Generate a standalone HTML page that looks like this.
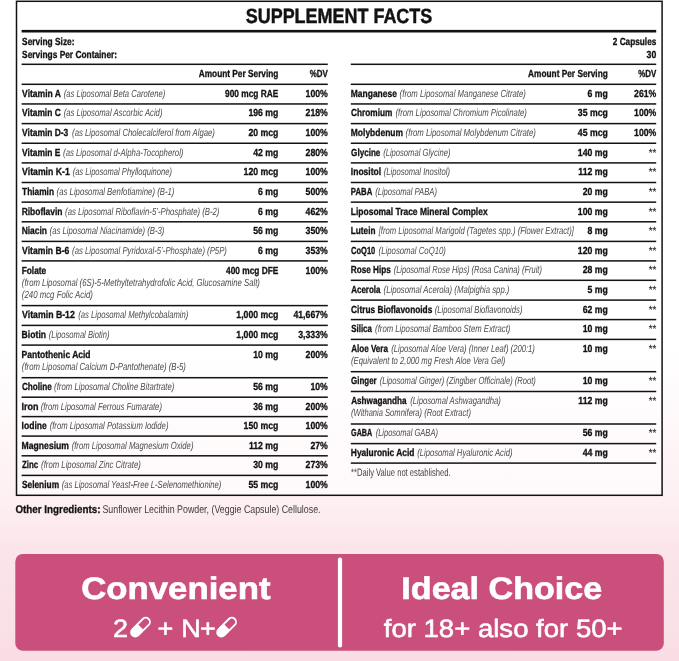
<!DOCTYPE html>
<html><head><meta charset="utf-8"><title>Supplement Facts</title>
<style>
html,body{margin:0;padding:0}
body{width:679px;height:661px;overflow:hidden;font-family:"Liberation Sans",sans-serif;background:linear-gradient(180deg,#ffffff 0%,#ffffff 52%,#fef9fa 63%,#fef5f7 67.5%,#fdf0f3 75.5%,#fce9ee 80%,#fbe4ea 84%,#f9dde5 100%)}
svg{position:absolute;left:0;top:0;display:block;filter:blur(.3px)}
text{font-family:"Liberation Sans",sans-serif;fill:#121212;text-rendering:geometricPrecision}
.ti{font-size:20.6px;font-weight:bold;stroke:#121212;stroke-width:.45px}
.b{font-size:10.3px;font-weight:bold;stroke:#121212;stroke-width:.32px}
.i{font-size:10.3px;font-style:italic;fill:#4c4c4c}
.r{font-size:10.8px;fill:#444}
.st{font-size:10.3px;fill:#222;stroke:#222;stroke-width:.15px}
.ob{font-size:11.2px;font-weight:bold;stroke:#121212;stroke-width:.3px}
.or{font-size:11.2px;fill:#3c3c3c}
.bt{font-size:31.2px;font-weight:bold;fill:#fff;stroke:#fff;stroke-width:.6px}
.bs{font-size:25px;fill:#fff;stroke:#fff;stroke-width:.55px}
</style></head><body>
<svg width="679" height="661" viewBox="0 0 679 661">
<rect x="16.5" y="1.3" width="645.6" height="494" fill="#fff" fill-opacity=".55" stroke="#121212" stroke-width="1.5"/>
<text class="ti" transform="translate(339.00 23.30) scale(0.8720 1)" text-anchor="middle">SUPPLEMENT FACTS</text>
<rect x="21.60" y="29.90" width="634.60" height="2.6" fill="#121212"/>
<text class="b" transform="translate(22.10 44.60) scale(0.8100 1)">Serving Size:</text>
<text class="b" transform="translate(22.10 57.60) scale(0.8100 1)">Servings Per Container:</text>
<text class="b" transform="translate(656.30 44.60) scale(0.8000 1)" text-anchor="end">2 Capsules</text>
<text class="b" transform="translate(656.30 57.60) scale(0.8450 1)" text-anchor="end">30</text>
<rect x="21.60" y="63.55" width="306.20" height="1.5" fill="#121212"/>
<rect x="350.80" y="63.55" width="305.40" height="1.5" fill="#121212"/>
<text class="b" transform="translate(278.40 77.10) scale(0.8050 1)" text-anchor="end">Amount Per Serving</text>
<text class="b" transform="translate(327.80 77.10) scale(0.7700 1)" text-anchor="end">%DV</text>
<text class="b" transform="translate(607.80 77.10) scale(0.8050 1)" text-anchor="end">Amount Per Serving</text>
<text class="b" transform="translate(656.30 77.10) scale(0.7700 1)" text-anchor="end">%DV</text>
<rect x="21.60" y="83.55" width="306.20" height="1.5" fill="#121212"/>
<text class="b" transform="translate(22.12 96.70) scale(0.8280 1)">Vitamin A</text>
<text class="i" transform="translate(63.63 96.70) scale(0.7428 1)">(as Liposomal Beta Carotene)</text>
<text class="b" transform="translate(278.40 96.70) scale(0.8100 1)" text-anchor="end">900 mcg RAE</text>
<text class="b" transform="translate(327.80 96.70) scale(0.8450 1)" text-anchor="end">100%</text>
<rect x="21.60" y="103.20" width="306.20" height="1.5" fill="#121212"/>
<text class="b" transform="translate(22.12 116.35) scale(0.8166 1)">Vitamin C</text>
<text class="i" transform="translate(63.63 116.35) scale(0.7487 1)">(as Liposomal Ascorbic Acid)</text>
<text class="b" transform="translate(278.40 116.35) scale(0.8450 1)" text-anchor="end">196 mg</text>
<text class="b" transform="translate(327.80 116.35) scale(0.8450 1)" text-anchor="end">218%</text>
<rect x="21.60" y="122.85" width="306.20" height="1.5" fill="#121212"/>
<text class="b" transform="translate(22.12 136.00) scale(0.8179 1)">Vitamin D-3</text>
<text class="i" transform="translate(72.12 136.00) scale(0.7509 1)">(as Liposomal Cholecalciferol from Algae)</text>
<text class="b" transform="translate(278.40 136.00) scale(0.8450 1)" text-anchor="end">20 mcg</text>
<text class="b" transform="translate(327.80 136.00) scale(0.8450 1)" text-anchor="end">100%</text>
<rect x="21.60" y="142.50" width="306.20" height="1.5" fill="#121212"/>
<text class="b" transform="translate(22.12 155.65) scale(0.8182 1)">Vitamin E</text>
<text class="i" transform="translate(63.12 155.65) scale(0.7525 1)">(as Liposomal d-Alpha-Tocopherol)</text>
<text class="b" transform="translate(278.40 155.65) scale(0.8450 1)" text-anchor="end">42 mg</text>
<text class="b" transform="translate(327.80 155.65) scale(0.8450 1)" text-anchor="end">280%</text>
<rect x="21.60" y="162.15" width="306.20" height="1.5" fill="#121212"/>
<text class="b" transform="translate(22.12 175.30) scale(0.8431 1)">Vitamin K-1</text>
<text class="i" transform="translate(72.63 175.30) scale(0.7351 1)">(as Liposomal Phylloquinone)</text>
<text class="b" transform="translate(278.40 175.30) scale(0.8450 1)" text-anchor="end">120 mcg</text>
<text class="b" transform="translate(327.80 175.30) scale(0.8450 1)" text-anchor="end">100%</text>
<rect x="21.60" y="181.75" width="306.20" height="1.5" fill="#121212"/>
<text class="b" transform="translate(22.12 194.90) scale(0.8067 1)">Thiamin</text>
<text class="i" transform="translate(56.62 194.90) scale(0.7539 1)">(as Liposomal Benfotiamine) (B-1)</text>
<text class="b" transform="translate(278.40 194.90) scale(0.8450 1)" text-anchor="end">6 mg</text>
<text class="b" transform="translate(327.80 194.90) scale(0.8450 1)" text-anchor="end">500%</text>
<rect x="21.60" y="201.40" width="306.20" height="1.5" fill="#121212"/>
<text class="b" transform="translate(21.63 214.55) scale(0.8206 1)">Riboflavin</text>
<text class="i" transform="translate(65.12 214.55) scale(0.7510 1)">(as Liposomal Riboflavin-5’-Phosphate) (B-2)</text>
<text class="b" transform="translate(278.40 214.55) scale(0.8450 1)" text-anchor="end">6 mg</text>
<text class="b" transform="translate(327.80 214.55) scale(0.8450 1)" text-anchor="end">462%</text>
<rect x="21.60" y="221.05" width="306.20" height="1.5" fill="#121212"/>
<text class="b" transform="translate(21.63 234.20) scale(0.8209 1)">Niacin</text>
<text class="i" transform="translate(49.62 234.20) scale(0.7515 1)">(as Liposomal Niacinamide) (B-3)</text>
<text class="b" transform="translate(278.40 234.20) scale(0.8450 1)" text-anchor="end">56 mg</text>
<text class="b" transform="translate(327.80 234.20) scale(0.8450 1)" text-anchor="end">350%</text>
<rect x="21.60" y="240.65" width="306.20" height="1.5" fill="#121212"/>
<text class="b" transform="translate(22.12 253.80) scale(0.8357 1)">Vitamin B-6</text>
<text class="i" transform="translate(72.12 253.80) scale(0.7512 1)">(as Liposomal Pyridoxal-5’-Phosphate) (P5P)</text>
<text class="b" transform="translate(278.40 253.80) scale(0.8450 1)" text-anchor="end">6 mg</text>
<text class="b" transform="translate(327.80 253.80) scale(0.8450 1)" text-anchor="end">353%</text>
<rect x="21.60" y="260.15" width="306.20" height="1.5" fill="#121212"/>
<text class="b" transform="translate(21.63 274.00) scale(0.8123 1)">Folate</text>
<text class="b" transform="translate(278.40 274.00) scale(0.8100 1)" text-anchor="end">400 mcg DFE</text>
<text class="b" transform="translate(327.80 274.00) scale(0.8450 1)" text-anchor="end">100%</text>
<text class="i" transform="translate(21.82 286.00) scale(0.7533 1)">(from Liposomal (6S)-5-Methyltetrahydrofolic Acid, Glucosamine Salt)</text>
<text class="i" transform="translate(21.82 298.00) scale(0.7608 1)">(240 mcg Folic Acid)</text>
<rect x="21.60" y="304.85" width="306.20" height="1.5" fill="#121212"/>
<text class="b" transform="translate(22.12 318.00) scale(0.8476 1)">Vitamin B-12</text>
<text class="i" transform="translate(78.13 318.00) scale(0.7469 1)">(as Liposomal Methylcobalamin)</text>
<text class="b" transform="translate(278.40 318.00) scale(0.8450 1)" text-anchor="end">1,000 mcg</text>
<text class="b" transform="translate(327.80 318.00) scale(0.8450 1)" text-anchor="end">41,667%</text>
<rect x="21.60" y="324.65" width="306.20" height="1.5" fill="#121212"/>
<text class="b" transform="translate(21.61 337.80) scale(0.8381 1)">Biotin</text>
<text class="i" transform="translate(48.63 337.80) scale(0.7380 1)">(Liposomal Biotin)</text>
<text class="b" transform="translate(278.40 337.80) scale(0.8450 1)" text-anchor="end">1,000 mcg</text>
<text class="b" transform="translate(327.80 337.80) scale(0.8450 1)" text-anchor="end">3,333%</text>
<rect x="21.60" y="344.35" width="306.20" height="1.5" fill="#121212"/>
<text class="b" transform="translate(21.62 357.50) scale(0.8228 1)">Pantothenic Acid</text>
<text class="b" transform="translate(278.40 357.50) scale(0.8450 1)" text-anchor="end">10 mg</text>
<text class="b" transform="translate(327.80 357.50) scale(0.8450 1)" text-anchor="end">200%</text>
<text class="i" transform="translate(21.82 369.50) scale(0.7525 1)">(from Liposomal Calcium D-Pantothenate) (B-5)</text>
<rect x="21.60" y="376.95" width="306.20" height="1.5" fill="#121212"/>
<text class="b" transform="translate(21.88 390.10) scale(0.7919 1)">Choline</text>
<text class="i" transform="translate(54.12 390.10) scale(0.7535 1)">(from Liposomal Choline Bitartrate)</text>
<text class="b" transform="translate(278.40 390.10) scale(0.8450 1)" text-anchor="end">56 mg</text>
<text class="b" transform="translate(327.80 390.10) scale(0.8450 1)" text-anchor="end">10%</text>
<rect x="21.60" y="396.45" width="306.20" height="1.5" fill="#121212"/>
<text class="b" transform="translate(21.59 409.60) scale(0.8729 1)">Iron</text>
<text class="i" transform="translate(40.63 409.60) scale(0.7466 1)">(from Liposomal Ferrous Fumarate)</text>
<text class="b" transform="translate(278.40 409.60) scale(0.8450 1)" text-anchor="end">36 mg</text>
<text class="b" transform="translate(327.80 409.60) scale(0.8450 1)" text-anchor="end">200%</text>
<rect x="21.60" y="415.85" width="306.20" height="1.5" fill="#121212"/>
<text class="b" transform="translate(21.62 429.00) scale(0.8294 1)">Iodine</text>
<text class="i" transform="translate(49.63 429.00) scale(0.7468 1)">(from Liposomal Potassium Iodide)</text>
<text class="b" transform="translate(278.40 429.00) scale(0.8450 1)" text-anchor="end">150 mcg</text>
<text class="b" transform="translate(327.80 429.00) scale(0.8450 1)" text-anchor="end">100%</text>
<rect x="21.60" y="435.35" width="306.20" height="1.5" fill="#121212"/>
<text class="b" transform="translate(21.61 448.50) scale(0.8373 1)">Magnesium</text>
<text class="i" transform="translate(71.63 448.50) scale(0.7469 1)">(from Liposomal Magnesium Oxide)</text>
<text class="b" transform="translate(278.40 448.50) scale(0.8450 1)" text-anchor="end">112 mg</text>
<text class="b" transform="translate(327.80 448.50) scale(0.8450 1)" text-anchor="end">27%</text>
<rect x="21.60" y="455.05" width="306.20" height="1.5" fill="#121212"/>
<text class="b" transform="translate(21.97 468.20) scale(0.7670 1)">Zinc</text>
<text class="i" transform="translate(41.12 468.20) scale(0.7517 1)">(from Liposomal Zinc Citrate)</text>
<text class="b" transform="translate(278.40 468.20) scale(0.8450 1)" text-anchor="end">30 mg</text>
<text class="b" transform="translate(327.80 468.20) scale(0.8450 1)" text-anchor="end">273%</text>
<rect x="21.60" y="474.65" width="306.20" height="1.5" fill="#121212"/>
<text class="b" transform="translate(21.96 487.80) scale(0.8103 1)">Selenium</text>
<text class="i" transform="translate(61.63 487.80) scale(0.7430 1)">(as Liposomal Yeast-Free L-Selenomethionine)</text>
<text class="b" transform="translate(278.40 487.80) scale(0.8450 1)" text-anchor="end">55 mcg</text>
<text class="b" transform="translate(327.80 487.80) scale(0.8450 1)" text-anchor="end">100%</text>
<rect x="350.80" y="83.55" width="305.40" height="1.5" fill="#121212"/>
<text class="b" transform="translate(350.82 96.70) scale(0.8218 1)">Manganese</text>
<text class="i" transform="translate(399.62 96.70) scale(0.7560 1)">(from Liposomal Manganese Citrate)</text>
<text class="b" transform="translate(607.80 96.70) scale(0.8450 1)" text-anchor="end">6 mg</text>
<text class="b" transform="translate(656.30 96.70) scale(0.8450 1)" text-anchor="end">261%</text>
<rect x="350.80" y="103.20" width="305.40" height="1.5" fill="#121212"/>
<text class="b" transform="translate(351.08 116.35) scale(0.8020 1)">Chromium</text>
<text class="i" transform="translate(395.42 116.35) scale(0.7511 1)">(from Liposomal Chromium Picolinate)</text>
<text class="b" transform="translate(607.80 116.35) scale(0.8450 1)" text-anchor="end">35 mcg</text>
<text class="b" transform="translate(656.30 116.35) scale(0.8450 1)" text-anchor="end">100%</text>
<rect x="350.80" y="122.85" width="305.40" height="1.5" fill="#121212"/>
<text class="b" transform="translate(350.82 136.00) scale(0.8215 1)">Molybdenum</text>
<text class="i" transform="translate(405.62 136.00) scale(0.7564 1)">(from Liposomal Molybdenum Citrate)</text>
<text class="b" transform="translate(607.80 136.00) scale(0.8450 1)" text-anchor="end">45 mcg</text>
<text class="b" transform="translate(656.30 136.00) scale(0.8450 1)" text-anchor="end">100%</text>
<rect x="350.80" y="142.50" width="305.40" height="1.5" fill="#121212"/>
<text class="b" transform="translate(351.09 155.65) scale(0.7857 1)">Glycine</text>
<text class="i" transform="translate(383.13 155.65) scale(0.7397 1)">(Liposomal Glycine)</text>
<text class="b" transform="translate(607.80 155.65) scale(0.8450 1)" text-anchor="end">140 mg</text>
<text class="st" transform="translate(656.30 155.65) scale(0.9500 1)" text-anchor="end">**</text>
<rect x="350.80" y="162.15" width="305.40" height="1.5" fill="#121212"/>
<text class="b" transform="translate(350.82 175.30) scale(0.8267 1)">Inositol</text>
<text class="i" transform="translate(383.63 175.30) scale(0.7426 1)">(Liposomal Inositol)</text>
<text class="b" transform="translate(607.80 175.30) scale(0.8450 1)" text-anchor="end">112 mg</text>
<text class="st" transform="translate(656.30 175.30) scale(0.9500 1)" text-anchor="end">**</text>
<rect x="350.80" y="181.75" width="305.40" height="1.5" fill="#121212"/>
<text class="b" transform="translate(350.87 194.90) scale(0.7518 1)">PABA</text>
<text class="i" transform="translate(375.13 194.90) scale(0.7412 1)">(Liposomal PABA)</text>
<text class="b" transform="translate(607.80 194.90) scale(0.8450 1)" text-anchor="end">20 mg</text>
<text class="st" transform="translate(656.30 194.90) scale(0.9500 1)" text-anchor="end">**</text>
<rect x="350.80" y="201.40" width="305.40" height="1.5" fill="#121212"/>
<text class="b" transform="translate(350.83 214.55) scale(0.8214 1)">Liposomal Trace Mineral Complex</text>
<text class="b" transform="translate(607.80 214.55) scale(0.8450 1)" text-anchor="end">100 mg</text>
<text class="st" transform="translate(656.30 214.55) scale(0.9500 1)" text-anchor="end">**</text>
<rect x="350.80" y="221.05" width="305.40" height="1.5" fill="#121212"/>
<text class="b" transform="translate(350.84 234.20) scale(0.7973 1)">Lutein</text>
<text class="i" transform="translate(378.65 234.20) scale(0.7442 1)">[from Liposomal Marigold (Tagetes spp.) (Flower Extract)]</text>
<text class="b" transform="translate(607.80 234.20) scale(0.8450 1)" text-anchor="end">8 mg</text>
<text class="st" transform="translate(656.30 234.20) scale(0.9500 1)" text-anchor="end">**</text>
<rect x="350.80" y="240.65" width="305.40" height="1.5" fill="#121212"/>
<text class="b" transform="translate(351.11 253.80) scale(0.7284 1)">CoQ10</text>
<text class="i" transform="translate(378.62 253.80) scale(0.7540 1)">(Liposomal CoQ10)</text>
<text class="b" transform="translate(607.80 253.80) scale(0.8450 1)" text-anchor="end">120 mg</text>
<text class="st" transform="translate(656.30 253.80) scale(0.9500 1)" text-anchor="end">**</text>
<rect x="350.80" y="260.15" width="305.40" height="1.5" fill="#121212"/>
<text class="b" transform="translate(350.84 273.30) scale(0.7947 1)">Rose Hips</text>
<text class="i" transform="translate(393.64 273.30) scale(0.7277 1)">(Liposomal Rose Hips) (Rosa Canina) (Fruit)</text>
<text class="b" transform="translate(607.80 273.30) scale(0.8450 1)" text-anchor="end">28 mg</text>
<text class="st" transform="translate(656.30 273.30) scale(0.9500 1)" text-anchor="end">**</text>
<rect x="350.80" y="279.55" width="305.40" height="1.5" fill="#121212"/>
<text class="b" transform="translate(351.17 292.70) scale(0.7760 1)">Acerola</text>
<text class="i" transform="translate(383.62 292.70) scale(0.7521 1)">(Liposomal Acerola) (Malpighia spp.)</text>
<text class="b" transform="translate(607.80 292.70) scale(0.8450 1)" text-anchor="end">5 mg</text>
<text class="st" transform="translate(656.30 292.70) scale(0.9500 1)" text-anchor="end">**</text>
<rect x="350.80" y="299.35" width="305.40" height="1.5" fill="#121212"/>
<text class="b" transform="translate(351.08 312.50) scale(0.8068 1)">Citrus Bioflavonoids</text>
<text class="i" transform="translate(434.63 312.50) scale(0.7449 1)">(Liposomal Bioflavonoids)</text>
<text class="b" transform="translate(607.80 312.50) scale(0.8450 1)" text-anchor="end">62 mg</text>
<text class="st" transform="translate(656.30 312.50) scale(0.9500 1)" text-anchor="end">**</text>
<rect x="350.80" y="318.85" width="305.40" height="1.5" fill="#121212"/>
<text class="b" transform="translate(351.17 332.00) scale(0.7715 1)">Silica</text>
<text class="i" transform="translate(375.12 332.00) scale(0.7506 1)">(from Liposomal Bamboo Stem Extract)</text>
<text class="b" transform="translate(607.80 332.00) scale(0.8450 1)" text-anchor="end">10 mg</text>
<text class="st" transform="translate(656.30 332.00) scale(0.9500 1)" text-anchor="end">**</text>
<rect x="350.80" y="338.65" width="305.40" height="1.5" fill="#121212"/>
<text class="b" transform="translate(351.16 351.80) scale(0.7837 1)">Aloe Vera</text>
<text class="i" transform="translate(391.13 351.80) scale(0.7463 1)">(Liposomal Aloe Vera) (Inner Leaf) (200:1)</text>
<text class="b" transform="translate(607.80 351.80) scale(0.8450 1)" text-anchor="end">10 mg</text>
<text class="st" transform="translate(656.30 351.80) scale(0.9500 1)" text-anchor="end">**</text>
<text class="i" transform="translate(351.03 363.80) scale(0.7438 1)">(Equivalent to 2,000 mg Fresh Aloe Vera Gel)</text>
<rect x="350.80" y="370.95" width="305.40" height="1.5" fill="#121212"/>
<text class="b" transform="translate(351.09 384.10) scale(0.7699 1)">Ginger</text>
<text class="i" transform="translate(379.63 384.10) scale(0.7380 1)">(Liposomal Ginger) (Zingiber Officinale) (Root)</text>
<text class="b" transform="translate(607.80 384.10) scale(0.8450 1)" text-anchor="end">10 mg</text>
<text class="st" transform="translate(656.30 384.10) scale(0.9500 1)" text-anchor="end">**</text>
<rect x="350.80" y="390.75" width="305.40" height="1.5" fill="#121212"/>
<text class="b" transform="translate(351.16 403.90) scale(0.7917 1)">Ashwagandha</text>
<text class="i" transform="translate(410.13 403.90) scale(0.7469 1)">(Liposomal Ashwagandha)</text>
<text class="b" transform="translate(607.80 403.90) scale(0.8450 1)" text-anchor="end">112 mg</text>
<text class="st" transform="translate(656.30 403.90) scale(0.9500 1)" text-anchor="end">**</text>
<text class="i" transform="translate(351.03 415.90) scale(0.7356 1)">(Withania Somnifera) (Root Extract)</text>
<rect x="350.80" y="423.25" width="305.40" height="1.5" fill="#121212"/>
<text class="b" transform="translate(351.12 436.40) scale(0.6959 1)">GABA</text>
<text class="i" transform="translate(375.63 436.40) scale(0.7304 1)">(Liposomal GABA)</text>
<text class="b" transform="translate(607.80 436.40) scale(0.8450 1)" text-anchor="end">56 mg</text>
<text class="st" transform="translate(656.30 436.40) scale(0.9500 1)" text-anchor="end">**</text>
<rect x="350.80" y="442.85" width="305.40" height="1.5" fill="#121212"/>
<text class="b" transform="translate(350.83 456.00) scale(0.8162 1)">Hyaluronic Acid</text>
<text class="i" transform="translate(417.13 456.00) scale(0.7459 1)">(Liposomal Hyaluronic Acid)</text>
<text class="b" transform="translate(607.80 456.00) scale(0.8450 1)" text-anchor="end">44 mg</text>
<text class="st" transform="translate(656.30 456.00) scale(0.9500 1)" text-anchor="end">**</text>
<rect x="350.80" y="462.35" width="305.40" height="1.5" fill="#121212"/>
<text class="r" transform="translate(351.10 475.70) scale(0.7060 1)">**Daily Value not established.</text>
<text class="ob" transform="translate(15.40 512.70) scale(0.8780 1)">Other Ingredients:</text>
<text class="or" transform="translate(102.40 512.70) scale(0.7900 1)">Sunflower Lecithin Powder, (Veggie Capsule) Cellulose.</text>
<rect x="15.3" y="553.9" width="648.5" height="96.8" rx="7.5" fill="#cb4f7c"/>
<rect x="337.9" y="557.6" width="4.2" height="90" rx="2" fill="#fff"/>
<text class="bt" transform="translate(175.80 599.10) scale(1.1150 1)" text-anchor="middle">Convenient</text>
<text class="bt" transform="translate(501.80 599.10) scale(1.0940 1)" text-anchor="middle">Ideal Choice</text>
<text class="bs" transform="translate(503.20 636.60) scale(1.1020 1)" text-anchor="middle">for 18+ also for 50+</text>
<text class="bs" transform="translate(120.60 636.60) scale(1.0800 1)" text-anchor="middle">2</text>
<text class="bs" transform="translate(165.50 636.60) scale(1.0800 1)" text-anchor="middle">+</text>
<text class="bs" transform="translate(190.90 636.60) scale(1.0800 1)" text-anchor="middle">N</text>
<text class="bs" transform="translate(207.90 636.60) scale(1.0800 1)" text-anchor="middle">+</text>
<g transform="translate(140.5 627.2) rotate(-45)"><rect x="-11.6" y="-4.2" width="23.2" height="8.4" rx="4.2" fill="none" stroke="#fff" stroke-width="1.8"/><path d="M0.3,-4.2 H-7.4 A4.2,4.2 0 0 0 -7.4,4.2 H0.3 Z" fill="#fff"/></g>
<g transform="translate(226.6 627.2) rotate(-45)"><rect x="-11.6" y="-4.2" width="23.2" height="8.4" rx="4.2" fill="none" stroke="#fff" stroke-width="1.8"/><path d="M0.3,-4.2 H-7.4 A4.2,4.2 0 0 0 -7.4,4.2 H0.3 Z" fill="#fff"/></g>
</svg>
</body></html>
